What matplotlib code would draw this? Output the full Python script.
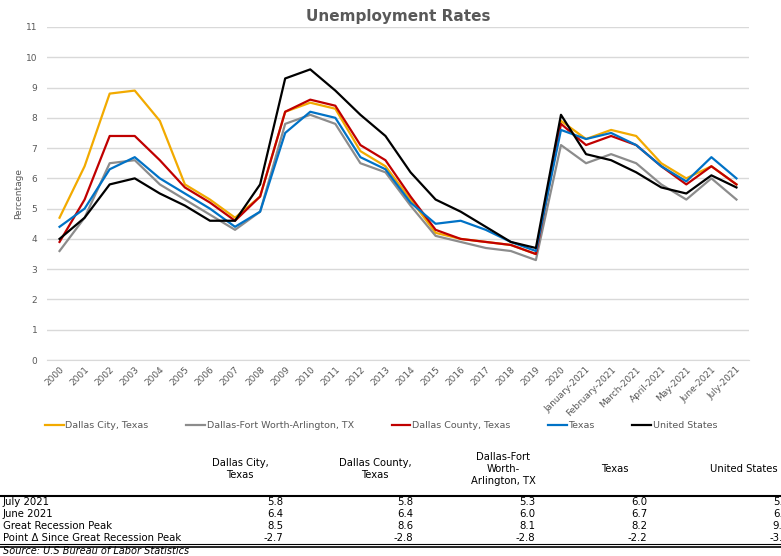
import numpy as np
import matplotlib
matplotlib.use("Agg")
import matplotlib.pyplot as plt

periods = [str(y) for y in range(2000, 2021)] + [
    "January-2021", "February-2021", "March-2021", "April-2021",
    "May-2021", "June-2021", "July-2021"]

dallas_city = [4.7, 6.4, 8.8, 8.9, 7.9, 5.8, 5.3, 4.7, 5.4, 8.2, 8.5, 8.3, 6.9, 6.4,
               5.3, 4.2, 4.0, 3.9, 3.8, 3.5, 7.9, 7.3, 7.6, 7.4, 6.5, 6.0, 6.4, 5.8]
dfw = [3.6, 4.7, 6.5, 6.6, 5.8, 5.3, 4.8, 4.3, 4.9, 7.8, 8.1, 7.8, 6.5, 6.2,
       5.1, 4.1, 3.9, 3.7, 3.6, 3.3, 7.1, 6.5, 6.8, 6.5, 5.8, 5.3, 6.0, 5.3]
dallas_county = [3.9, 5.3, 7.4, 7.4, 6.6, 5.7, 5.2, 4.6, 5.4, 8.2, 8.6, 8.4, 7.1, 6.6,
                 5.4, 4.3, 4.0, 3.9, 3.8, 3.5, 7.8, 7.1, 7.4, 7.1, 6.4, 5.8, 6.4, 5.8]
texas = [4.4, 5.0, 6.3, 6.7, 6.0, 5.5, 5.0, 4.4, 4.9, 7.5, 8.2, 8.0, 6.7, 6.3,
         5.2, 4.5, 4.6, 4.3, 3.9, 3.6, 7.6, 7.3, 7.5, 7.1, 6.4, 5.9, 6.7, 6.0]
united_states = [4.0, 4.7, 5.8, 6.0, 5.5, 5.1, 4.6, 4.6, 5.8, 9.3, 9.6, 8.9, 8.1, 7.4,
                 6.2, 5.3, 4.9, 4.4, 3.9, 3.7, 8.1, 6.8, 6.6, 6.2, 5.7, 5.5, 6.1, 5.7]

series = [
    ("Dallas City, Texas", dallas_city, "#F2AA00"),
    ("Dallas-Fort Worth-Arlington, TX", dfw, "#8C8C8C"),
    ("Dallas County, Texas", dallas_county, "#C00000"),
    ("Texas", texas, "#0072C6"),
    ("United States", united_states, "#000000"),
]

# table columns (header text, series index)
table_heads = ["Dallas City,\nTexas", "Dallas County,\nTexas", "Dallas-Fort\nWorth-\nArlington, TX",
               "Texas", "United States"]
table_order = [0, 2, 1, 3, 4]

txt = "#595959"
fig = plt.figure(figsize=(7.81, 5.56), dpi=100)
ax = fig.add_axes([47 / 781, 1 - 360 / 556, 702 / 781, 333 / 556])

x = np.arange(len(periods))
for name, vals, col in series:
    ax.plot(x, vals, color=col, lw=1.6, label=name)

ax.set_xlim(-0.5, len(periods) - 0.5)
ax.set_ylim(0, 11)
ax.set_yticks(range(0, 12))
ax.grid(axis="y", color="#D9D9D9", lw=1)
ax.set_axisbelow(True)
for s in ["top", "right", "left"]:
    ax.spines[s].set_visible(False)
ax.spines["bottom"].set_color("#D9D9D9")
ax.tick_params(length=0, labelsize=6.5, labelcolor=txt)
ax.tick_params(axis="y", pad=7)
ax.set_xticks(x)
ax.set_xticklabels(periods, rotation=45, ha="right", va="top", rotation_mode="anchor")
ax.set_ylabel("Percentage", fontsize=6.5, color=txt, labelpad=2)
ax.set_title("Unemployment Rates", fontsize=11, fontweight="bold", color=txt, pad=4)

fig.legend(loc="center", bbox_to_anchor=(0.488, 1 - 426 / 556), ncol=5, frameon=False,
           fontsize=6.8, handlelength=2.0, handletextpad=0.15, columnspacing=4.0,
           labelcolor=txt)

# summary table under the chart
col_x = [283, 413, 535, 647, 789]
head_x = [240, 375, 503, 615, 744]
for hx, h in zip(head_x, table_heads):
    fig.text(hx / 781, 1 - 469 / 556, h, ha="center", va="center", fontsize=7.2,
             color="black", linespacing=1.3)

row_names = ["July 2021", "June 2021", "Great Recession Peak", "Point \u0394 Since Great Recession Peak"]
row_y = [502, 514, 526, 538]
for name, ry in zip(row_names, row_y):
    fig.text(3 / 781, 1 - ry / 556, name, ha="left", va="center", fontsize=7.3)

for cx, si in zip(col_x, table_order):
    vals = series[si][1]
    peak = max(vals[8:13])
    cells = [vals[-1], vals[-2], peak, round(vals[-1] - peak, 1)]
    for v, ry in zip(cells, row_y):
        fig.text(cx / 781, 1 - ry / 556, f"{v:.1f}", ha="right", va="center", fontsize=7.3)

fig.add_artist(plt.Line2D([0, 1], [1 - 496 / 556] * 2, color="black", lw=1.5))
fig.add_artist(plt.Line2D([0, 1], [1 - 544 / 556] * 2, color="black", lw=0.8))
fig.add_artist(plt.Line2D([0, 1], [1 - 546.5 / 556] * 2, color="black", lw=1.2))
fig.text(3 / 781, 1 - 550.5 / 556, "Source: U.S Bureau of Labor Statistics", ha="left",
         va="center", fontsize=7, style="italic")

fig.savefig("out.png", dpi=100)
